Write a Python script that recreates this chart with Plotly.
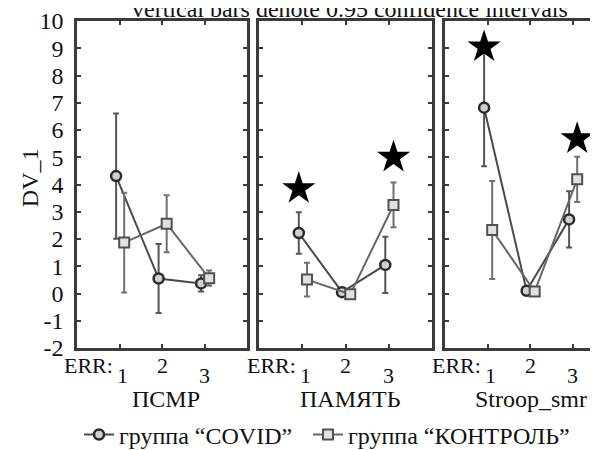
import plotly.graph_objects as go

# ---------------- data ----------------
categories = [1, 2, 3]
panel_names = ["ПСМР", "ПАМЯТЬ", "Stroop_smr"]

covid_psmr = [4.31, 0.55, 0.37]
covid_psmr_err = [2.30, 1.27, 0.30]
control_psmr = [1.87, 2.56, 0.56]
control_psmr_err = [1.83, 1.05, 0.28]

covid_pam = [2.22, 0.05, 1.05]
covid_pam_err = [0.76, 0.08, 1.03]
control_pam = [0.51, -0.03, 3.25]
control_pam_err = [0.62, 0.05, 0.82]

covid_str = [6.82, 0.10, 2.72]
covid_str_err = [2.15, 0.08, 1.03]
control_str = [2.33, 0.07, 4.19]
control_str_err = [1.80, 0.08, 0.83]

star_x_pam = [1, 3]
star_y_pam = [3.85, 5.00]
star_x_str = [1, 3]
star_y_str = [9.05, 5.68]

y_ticks = [-2, -1, 0, 1, 2, 3, 4, 5, 6, 7, 8, 9, 10]
y_tick_labels = ["-2", "-1", "0", "1", "2", "3", "4", "5", "6", "7", "8", "9", "10"]
x_tick_labels = ["1", "2", "3"]
title_text = "vertical bars denote 0.95 confidence intervals"
legend_names = ["группа “COVID”", "группа “КОНТРОЛЬ”"]

# ---------------- figure ----------------
FONT = "Liberation Serif"
W, H = 598, 450
ML, MR, MT, MB = 0, 0, 13, 102

covid_off = -0.08
control_off = 0.11

fig = go.Figure()

panels = [
    (covid_psmr, covid_psmr_err, control_psmr, control_psmr_err, None, None),
    (covid_pam, covid_pam_err, control_pam, control_pam_err, star_x_pam, star_y_pam),
    (covid_str, covid_str_err, control_str, control_str_err, star_x_str, star_y_str),
]

for i, (cv, cve, ct, cte, sx, sy) in enumerate(panels):
    xa = "x" if i == 0 else f"x{i+1}"
    ya = "y" if i == 0 else f"y{i+1}"
    fig.add_trace(go.Scatter(
        x=[c + covid_off for c in categories], y=cv,
        error_y=dict(type="data", array=cve, visible=True, color="#555555",
                     thickness=2, width=3),
        mode="lines+markers",
        line=dict(color="#4a4a4a", width=2),
        marker=dict(symbol="circle", size=10, color="#d0d0d0",
                    line=dict(color="#2a2a2a", width=2.5)),
        name=legend_names[0], showlegend=(i == 0), legend="legend",
        xaxis=xa, yaxis=ya))
    fig.add_trace(go.Scatter(
        x=[c + control_off for c in categories], y=ct,
        error_y=dict(type="data", array=cte, visible=True, color="#707070",
                     thickness=2, width=3),
        mode="lines+markers",
        line=dict(color="#666666", width=2),
        marker=dict(symbol="square", size=10, color="#e0e0e0",
                    line=dict(color="#505050", width=2)),
        name=legend_names[1], showlegend=(i == 0), legend="legend2",
        xaxis=xa, yaxis=ya))
    if sx is not None:
        fig.add_trace(go.Scatter(
            x=[sx[0] + covid_off, sx[1] + control_off], y=sy,
            mode="markers",
            marker=dict(symbol="star", size=25, color="black",
                        line=dict(width=0)),
            showlegend=False, hoverinfo="skip", xaxis=xa, yaxis=ya))

# domains in pixels
px_domains = [(69, 239), (251, 424), (437, 598)]
px_ranges = [(0, 4), (0, 4), (0, (598 - 437) / 42.5)]

axis_color = "#3a3a3a"
layout = {}
for i, ((a, b), rng) in enumerate(zip(px_domains, px_ranges)):
    key = "xaxis" if i == 0 else f"xaxis{i+1}"
    ykey = "yaxis" if i == 0 else f"yaxis{i+1}"
    layout[key] = dict(
        domain=[(a - ML) / (W - ML - MR), (b - ML) / (W - ML - MR)],
        range=list(rng), tickvals=categories, showticklabels=False,
        ticks="inside", ticklen=4, tickwidth=1.5, tickcolor=axis_color,
        showline=True, linecolor=axis_color, linewidth=2.5,
        mirror="ticks", showgrid=False, zeroline=False,
        anchor="y" if i == 0 else f"y{i+1}", fixedrange=True)
    layout[ykey] = dict(
        domain=[0, 1], range=[-2, 10], tickvals=y_ticks, ticktext=y_tick_labels,
        showticklabels=(i == 0),
        tickfont=dict(family=FONT, size=24, color="#111111"),
        ticklabeloverflow="allow",
        ticks="inside", ticklen=4, tickwidth=1.5, tickcolor=axis_color,
        showline=True, linecolor=axis_color, linewidth=2.5,
        mirror=("ticks" if i < 2 else False), showgrid=False, zeroline=False,
        ticklabelstandoff=6,
        anchor="x" if i == 0 else f"x{i+1}", fixedrange=True)

fig.update_layout(**layout)

ann = []
txt_font = dict(family=FONT, size=24, color="#111111")
small_font = dict(family=FONT, size=22, color="#111111")
label_x = [2.1, 2.1, 2.03]
for i in range(3):
    xr = "x" if i == 0 else f"x{i+1}"
    ann.append(dict(x=0.28, y=0, xref=xr, yref="paper", text="ERR:",
                    showarrow=False, font=small_font,
                    yanchor="middle", yshift=-17))
    for c, lab in zip(categories, x_tick_labels):
        low = (c != 2)
        ann.append(dict(x=c + (0.07 if c == 1 else 0.0), y=0, xref=xr, yref="paper",
                        text=lab, showarrow=False, font=small_font,
                        yanchor="middle", yshift=(-27 if low else -17)))
    ann.append(dict(x=label_x[i], y=0, xref=xr, yref="paper", text=panel_names[i],
                    showarrow=False, font=txt_font,
                    yanchor="middle", yshift=-51))

# y-axis title
ann.append(dict(x=22, y=174, xref="paper", yref="paper", text="DV_1",
                showarrow=False, font=txt_font, textangle=-90))
# title (cut at top as in the reference)
ann.append(dict(x=342, y=1, xref="paper", yref="paper", text=title_text,
                showarrow=False, font=txt_font))

for a in ann[-2:]:
    px, py = a["x"], a["y"]
    a["x"] = (px - ML) / (W - ML - MR)
    a["y"] = 1 - (py - MT) / (H - MT - MB)
    a["xanchor"] = "center"
    a["yanchor"] = "middle"

legend_common = dict(orientation="h", xanchor="left",
                     y=-(437 - 348) / (H - MT - MB), yanchor="middle",
                     font=dict(family=FONT, size=24, color="#111111"),
                     bgcolor="rgba(0,0,0,0)", borderwidth=0, itemwidth=30)

fig.update_layout(
    width=W, height=H,
    margin=dict(l=ML, r=MR, t=MT, b=MB, pad=0),
    paper_bgcolor="white", plot_bgcolor="white",
    font=dict(family=FONT, size=24, color="#111111"),
    annotations=ann,
    showlegend=True,
    legend=dict(x=71 / W, **legend_common),
    legend2=dict(x=300 / W, **legend_common),
)

fig.write_html("out.html")
